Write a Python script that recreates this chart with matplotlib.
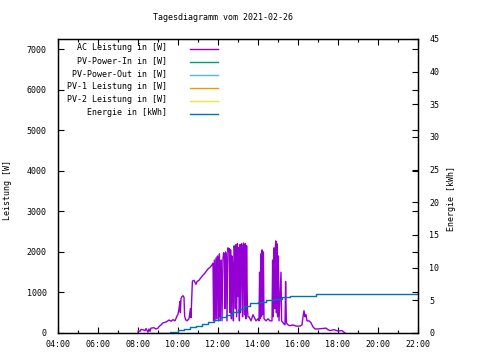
import matplotlib
matplotlib.use('Agg')
import matplotlib.pyplot as plt
from matplotlib.ticker import MultipleLocator

plt.rcParams['font.family'] = 'DejaVu Sans Mono'
plt.rcParams['font.size'] = 6

# AC power (time in hours, W)
ac_time = [8.00, 8.02, 8.10, 8.15, 8.25, 8.35, 8.40, 8.50, 8.55, 8.60, 8.65, 8.80, 8.90, 9.00,
           9.05, 9.15, 9.25, 9.40, 9.55, 9.65, 9.75, 9.85, 9.95, 10.00, 10.05, 10.10, 10.12,
           10.15, 10.20, 10.25, 10.30, 10.33, 10.38, 10.45, 10.55, 10.62, 10.65, 10.72, 10.80,
           10.90, 10.95, 11.05, 11.20, 11.35, 11.50, 11.60, 11.70, 11.75,
           11.78, 11.82, 11.85, 11.90, 11.93, 11.97, 12.00, 12.03, 12.07, 12.10, 12.13, 12.16,
           12.20, 12.25, 12.28, 12.32, 12.35, 12.38, 12.42, 12.45, 12.50, 12.53, 12.57, 12.60,
           12.63, 12.67, 12.70, 12.73, 12.77, 12.80, 12.83, 12.87, 12.90, 12.93, 12.97, 13.00,
           13.03, 13.07, 13.10, 13.13, 13.17, 13.20, 13.23, 13.27, 13.30, 13.33, 13.37, 13.40,
           13.43, 13.47, 13.50, 13.55, 13.65, 13.75, 13.80, 13.90, 14.00, 14.05, 14.08, 14.11,
           14.14, 14.17, 14.20, 14.23, 14.27, 14.30, 14.40, 14.50, 14.60, 14.70, 14.73, 14.76,
           14.80, 14.83, 14.86, 14.89, 14.92, 14.95, 14.98, 15.02, 15.05, 15.10, 15.15, 15.18,
           15.25, 15.35, 15.38, 15.42, 15.50, 15.60, 15.75, 15.90, 16.10, 16.20, 16.25, 16.30,
           16.35, 16.40, 16.45, 16.55, 16.65, 16.75, 16.85, 17.00, 17.40, 17.50, 17.60, 17.80,
           18.00, 18.20, 18.35]
ac_power = [0, 60, 40, 90, 80, 60, 110, 20, 100, 40, 120, 130, 100, 120,
            160, 200, 250, 270, 320, 290, 330, 300, 420, 460, 600, 780, 500,
            850, 900, 920, 880, 420, 330, 300, 350, 600, 380, 1280, 1300,
            1200, 1270, 1300, 1400, 1480, 1580, 1620, 1680, 1720,
            300, 1800, 300, 1850, 350, 1900, 1800, 300, 1950, 400, 1700, 1800,
            300, 1850, 1980, 1950, 600, 2000, 1900, 300, 2100, 2000, 2080, 500,
            2050, 350, 1900, 1700, 300, 2150, 2100, 600, 2180, 400, 2200, 900,
            2100, 300, 2180, 500, 2200, 2150, 400, 2220, 2180, 450, 2200, 350,
            2150, 600, 400, 400, 300, 450, 400, 300, 350, 300, 1500, 350,
            1950, 400, 2050, 450, 2000, 350, 300, 350, 300, 300, 1800, 400,
            2100, 600, 2000, 2270, 500, 2200, 400, 1900, 300, 900, 1500, 300,
            250, 200, 1270, 250, 200, 180, 200, 170, 170, 200, 400, 550,
            400, 450, 300, 300, 250, 150, 100, 100, 120, 80, 60, 80,
            50, 60, 0]

# daily energy (time in hours, kWh)
en_time = [9.05, 9.60, 10.00, 10.30, 10.60, 10.90, 11.20, 11.50, 11.80, 12.10, 12.40, 12.70,
           13.00, 13.30, 13.60, 14.00, 14.40, 14.80, 15.20, 15.60, 16.10, 16.90, 21.95, 22.00]
en_kwh = [0.0, 0.2, 0.4, 0.6, 0.85, 1.1, 1.4, 1.7, 2.0, 2.4, 2.8, 3.2,
          3.7, 4.2, 4.6, 4.8, 5.0, 5.2, 5.45, 5.6, 5.7, 5.95, 5.95, 6.05]

labels = ['AC Leistung in [W]', 'PV-Power-In in [W]', 'PV-Power-Out in [W]',
          'PV-1 Leistung in [W]', 'PV-2 Leistung in [W]', 'Energie in [kWh]']
colors = ['#9400d3', '#009e73', '#56b4e9', '#e69f00', '#f0e442', '#0072b2']

xticks = [4, 6, 8, 10, 12, 14, 16, 18, 20, 22]
xlabels = ['04:00', '06:00', '08:00', '10:00', '12:00', '14:00', '16:00', '18:00', '20:00', '22:00']

fig = plt.figure(figsize=(4.8, 3.6), dpi=100)
ax = fig.add_axes([58/480, 27/360, 360/480, 294/360])
ax2 = ax.twinx()

ax.plot(ac_time, ac_power, color=colors[0], lw=1.0)
ax2.step(en_time, en_kwh, where='post', color=colors[5], lw=1.0)

ax.set_xlim(4, 22)
ax.set_ylim(0, 7250)
ax2.set_ylim(0, 45)
ax.set_xticks(xticks)
ax.set_xticklabels(xlabels)
ax.xaxis.set_minor_locator(MultipleLocator(1))
ax.set_yticks(range(0, 7001, 1000))
ax2.set_yticks(range(0, 46, 5))

ax.tick_params(which='both', direction='in', top=True, right=True, width=0.8)
ax.tick_params(which='major', length=4)
ax.tick_params(which='minor', length=2.5)
ax.tick_params(axis='y', pad=8)
ax.tick_params(axis='x', pad=5)
ax2.tick_params(direction='in', length=4, width=0.8, pad=8)
for a in (ax, ax2):
    for s in a.spines.values():
        s.set_linewidth(0.9)

# legend, gnuplot style: text right-aligned left of the sample line
for i in range(len(labels)):
    ty = (333 - 47.3 - 12.97 * i) / 294
    ly = (333 - 49.3 - 12.97 * i) / 294
    ax.text(0.302, ty, labels[i], transform=ax.transAxes, ha='right', va='center')
    ax.plot([0.367, 0.444], [ly, ly], transform=ax.transAxes, color=colors[i], lw=1.0,
            clip_on=False)

fig.text(223/480, 1 - 18/360, 'Tagesdiagramm vom 2021-02-26', ha='center', va='center')
fig.text(8/480, 1 - 190/360, 'Leistung [W]', rotation=90, ha='center', va='center')
fig.text(452/480, 1 - 198/360, 'Energie [kWh]', rotation=90, ha='center', va='center')

fig.savefig('out.png', dpi=100)
